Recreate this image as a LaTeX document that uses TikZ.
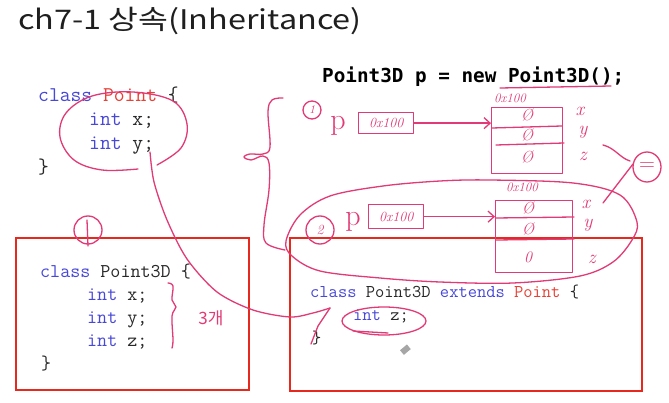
\documentclass[tikz,border=0pt]{standalone}
\usepackage{fontspec}
\newfontfamily\krfont{Noto Sans CJK KR}
\newfontfamily\boldmono{DejaVu Sans Mono}
\usetikzlibrary{arrows.meta,shapes.geometric}
\definecolor{kwblue}{RGB}{72,72,216}
\definecolor{clsred}{RGB}{232,64,52}
\definecolor{codetext}{RGB}{40,40,40}
\definecolor{boxred}{RGB}{232,40,28}
\definecolor{pen}{RGB}{226,58,118}
\newcommand{\kw}[1]{{\color{kwblue}#1}}
\newcommand{\cls}[1]{{\color{clsred}#1}}
\begin{document}
\begin{tikzpicture}[x=1pt,y=-1pt,
  code/.style={anchor=base west,inner sep=0pt,text=codetext,font=\ttfamily\fontsize{#1}{#1}\selectfont\addfontfeatures{FakeStretch=1.143,FakeBold=0.6}},
  ink/.style={draw=pen,line width=1.3pt,line cap=round,line join=round},
  hand/.style={text=pen,inner sep=0pt,font=\itshape\fontsize{#1}{#1}\selectfont},
  redbox/.style={draw=boxred,line width=1.8pt},
  arr/.style={ink,-{Straight Barb[length=6pt,width=11pt]}}
]
\useasboundingbox (0,0) rectangle (669,403);
\fill[white] (0,0) rectangle (669,403);

% title
\node[anchor=base west,inner sep=0pt,text=black!88,font=\krfont\fontsize{27}{27}\selectfont\addfontfeatures{FakeStretch=1.2}] (title) at (18,30) {ch7-1 상속(Inheritance)};

% top code
\node[code=21] (c1) at (38,102) {\kw{class} \cls{Point} \{};
\node[code=21] (c2) at (89,126) {\kw{int} x;};
\node[code=21] (c3) at (89,150) {\kw{int} y;};
\node[code=21] (c4) at (38,174) {\}};

% statement
\node[anchor=base west,inner sep=0pt,text=black,font=\boldmono\bfseries\fontsize{19.3}{19.3}\selectfont] (stmt) at (322,83) {Point3D p = new Point3D();};

% red boxes
\draw[redbox] (16,238) rectangle (249,390);
\draw[redbox] (290,238) rectangle (642,391);

% left box code
\node[code=19.5] (l1) at (40,277) {\kw{class} Point3D \{};
\node[code=19.5] (l2) at (87,300) {\kw{int} x;};
\node[code=19.5] (l3) at (87,323) {\kw{int} y;};
\node[code=19.5] (l4) at (87,346) {\kw{int} z;};
\node[code=19.5] (l5) at (41,369) {\}};

% right box code
\node[code=18] (r1) at (310,298) {\kw{class} Point3D \kw{extends} \cls{Point} \{};
\node[code=18] (r2) at (353,320) {\kw{int} z;};
\node[code=18] (r3) at (312,343) {\}};

% ---------- handwriting ----------
% underline of new Point3D()
\draw[ink] (500,88) -- (611,86);

% big brace
\draw[ink] plot[smooth,tension=0.6] coordinates {(283,98) (272,100) (268,112) (270,147) (263,154) (250,154) (244,157) (251,160) (263,156) (269,163) (269,190) (264,225) (266,243) (285,250)};

% (1) with p box and memory block 1
\node[ink,circle,minimum size=18pt,inner sep=0pt,hand=12] (one) at (312,110) {1};
\node[hand=30,font=\fontsize{30}{30}\selectfont] (p1) at (338,126) {p};
\node[ink,hand=14,minimum width=55pt,minimum height=21pt,anchor=north west] (pb1) at (358,112) {0x100};
\node[ink,minimum width=71pt,minimum height=66pt,inner sep=0pt,anchor=north west] (mem1) at (491,107) {};
\draw[ink] (492,128) -- (562,126);
\draw[ink] (496,145) -- (564,143);
\node[hand=16] (m1a) at (527,115) {Ø};
\node[hand=16] (m1b) at (527,135) {Ø};
\node[hand=16] (m1c) at (527,157) {Ø};
\node[hand=13] (a1) at (510,98) {0x100};
\node[hand=19] (x1) at (580,111) {x};
\node[hand=19] (y1) at (583,132) {y};
\node[hand=19] (z1) at (583,156) {z};
\draw[arr] (pb1.east) -- (mem1.west |- pb1.east);

% = sign
\node[ink,ellipse,minimum width=28pt,minimum height=30pt,inner sep=0pt,hand=22,font=\fontsize{22}{22}\selectfont] (eq) at (647,167) {=};
\draw[ink] (603,145) .. controls (615,148) and (620,158) .. (630,161);
\draw[ink] (633,164) -- (603,203);

% big loop around case 2
\draw[ink] plot[smooth cycle,tension=0.55] coordinates {(286,241) (300,215) (330,196) (383,186) (440,181) (490,180) (573,183) (620,195) (637,222) (632,240) (613,262) (580,276) (513,283) (440,282) (380,278) (320,271) (292,256)};

% (2) with p box and memory block 2
\node[ink,circle,minimum width=28pt,minimum height=24pt,inner sep=0pt,hand=14] (two) at (320,230) {2};
\node[hand=30,font=\fontsize{30}{30}\selectfont] (p2) at (353,222) {p};
\node[ink,hand=14,minimum width=55pt,minimum height=24pt,anchor=north west] (pb2) at (368,204) {0x100};
\node[ink,minimum width=77pt,minimum height=72pt,inner sep=0pt,anchor=north west] (mem2) at (495,200) {};
\draw[ink] (496,218) -- (574,217);
\draw[ink] (496,240) -- (574,239);
\node[hand=16] (m2a) at (528,208) {Ø};
\node[hand=16] (m2b) at (528,229) {Ø};
\node[hand=16] (m2c) at (528,257) {0};
\node[hand=13] (a2) at (522,187) {0x100};
\node[hand=19] (x2) at (586,204) {x};
\node[hand=19] (y2) at (588,225) {y};
\node[hand=19] (z2) at (592,259) {z};
\draw[arr] (pb2.east) -- (mem2.west |- pb2.east);

% ellipse around int x; int y;
\draw[ink] plot[smooth,tension=0.6] coordinates {(157,165) (181,148) (187,124) (173,101) (133,92) (92,96) (66,113) (60,137) (74,160) (102,170) (138,169)};

% connector int y -> int z
\coordinate (hook) at (311,344);
\draw[ink] plot[smooth,tension=0.5] coordinates {(150,152) (154,182) (167,220) (187,259) (217,292) (253,310) (290,317) (313,313) (330,308)};
\draw[ink] (330,308) -- (318,326) -- (hook);

% ellipse around int z
\draw[ink] (384,321) ellipse [x radius=42, y radius=14];
\draw[ink] (353,331) -- (388,333);

% (1) above left box
\node[ink,circle,minimum width=28pt,minimum height=22pt,inner sep=0pt] (oneL) at (88,230) {};
\draw[ink] (87,220) -- (88,246);

% brace 3
\draw[ink] plot[smooth,tension=0.6] coordinates {(168,283) (173,286) (172,300) (176,307) (172,316) (173,340) (172,348)};
\node[text=pen,inner sep=0pt,font=\krfont\fontsize{17}{17}\selectfont] (three) at (211,318) {3개};

% mouse cursor
\fill[gray!70,rotate around={40:(405,350)}] (401,347) rectangle (410,353);
\end{tikzpicture}
\end{document}
